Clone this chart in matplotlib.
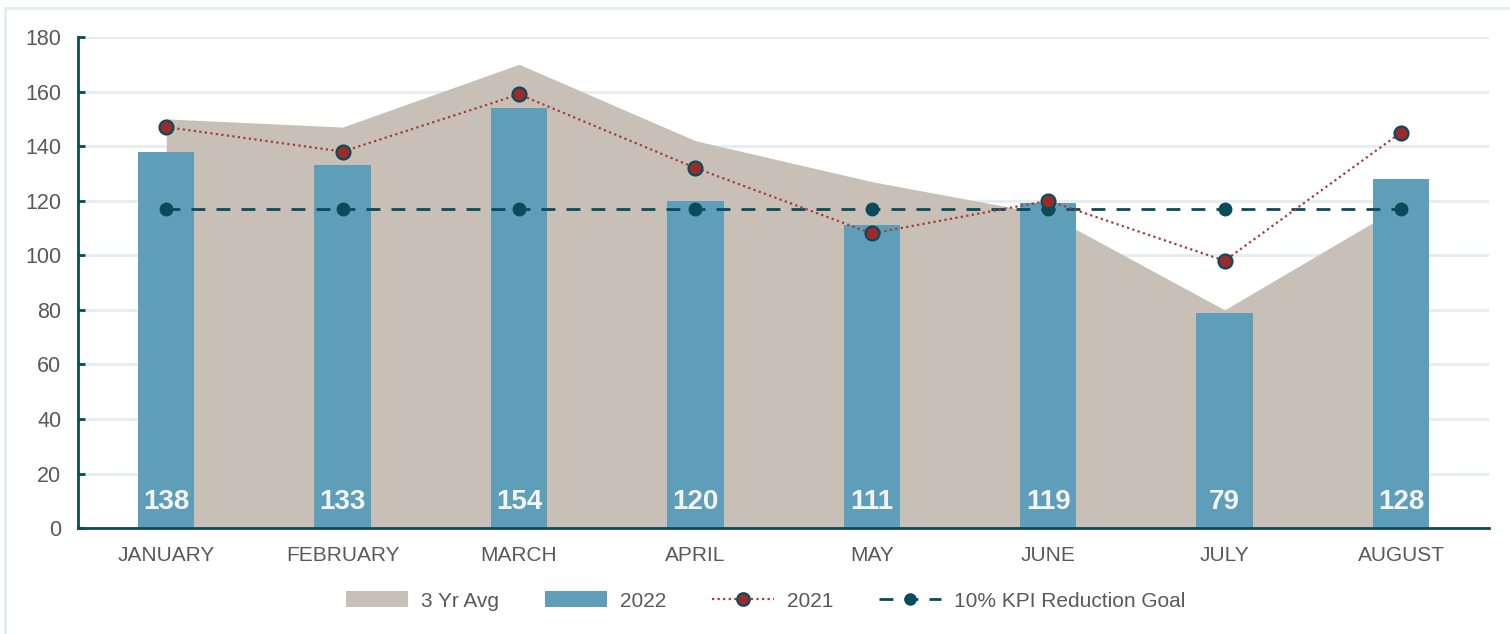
import matplotlib.pyplot as plt
import numpy as np
from matplotlib.patches import Patch
from matplotlib.lines import Line2D

plt.rcParams["font.family"] = ["Liberation Sans", "DejaVu Sans"]

months = ["JANUARY", "FEBRUARY", "MARCH", "APRIL", "MAY", "JUNE", "JULY", "AUGUST"]
avg_3yr = [150, 147, 170, 142, 127, 115, 80, 118]
vals_2022 = [138, 133, 154, 120, 111, 119, 79, 128]
vals_2021 = [147, 138, 159, 132, 108, 120, 98, 145]
kpi_goal = [117, 117, 117, 117, 117, 117, 117, 117]

DARK = "#0b4a5a"
AREA = "#c8c0b6"
BAR = "#5f9eb8"
RED = "#9b2b2b"
GRID = "#e3edf2"
TEXT = "#595959"

fig = plt.figure(figsize=(15.1, 6.34), dpi=100)
# faint outer frame (top and left edges only)
fig.add_artist(Line2D([0.0033, 1.0], [0.987, 0.987], transform=fig.transFigure,
                      color="#e1ecf1", linewidth=2))
fig.add_artist(Line2D([0.0033, 0.0033], [0.0, 0.987], transform=fig.transFigure,
                      color="#e1ecf1", linewidth=2))
ax = fig.add_axes([0.0517, 0.167, 0.9345, 0.7746])

x = np.arange(len(months))
ax.fill_between(x, avg_3yr, 0, color=AREA, linewidth=0, zorder=1)
ax.bar(x, vals_2022, width=0.32, color=BAR, zorder=2)
for xi, v in zip(x, vals_2022):
    ax.text(xi, 9.5, str(v), ha="center", va="center", color="#f4f4f4",
            fontsize=20, fontweight="bold", zorder=5)
ax.plot(x, vals_2021, linestyle=(0, (1, 1.5)), color="#a63a3a", linewidth=1.6,
        marker="o", markersize=10, markerfacecolor=RED, markeredgecolor=DARK,
        markeredgewidth=1.6, zorder=4)
ax.plot(x, kpi_goal, linestyle=(0, (5, 4)), color=DARK, linewidth=2,
        marker="o", markersize=9, markerfacecolor=DARK, markeredgecolor=DARK, zorder=3)

ax.set_xlim(-0.5, len(months) - 0.5)
ax.set_ylim(0, 180)
ax.set_yticks(range(0, 181, 20))
ax.grid(axis="y", color=GRID, linewidth=2, zorder=0)
ax.set_axisbelow(True)
ax.set_xticks(x)
ax.set_xticklabels(months)
for side in ["top", "right"]:
    ax.spines[side].set_visible(False)
for side in ["left", "bottom"]:
    ax.spines[side].set_color(DARK)
    ax.spines[side].set_linewidth(2)
ax.tick_params(axis="y", direction="in", length=5, width=2, color=DARK,
               labelsize=15.5, labelcolor=TEXT, pad=12)
ax.tick_params(axis="x", length=0, labelsize=15, labelcolor=TEXT, pad=13)

handles = [
    Patch(facecolor=AREA, edgecolor="none"),
    Patch(facecolor=BAR, edgecolor="none"),
    Line2D([], [], linestyle=(0, (1, 1.5)), color="#a63a3a", linewidth=1.6, marker="o",
           markersize=9, markerfacecolor=RED, markeredgecolor=DARK, markeredgewidth=1.6),
    Line2D([], [], linestyle=(0, (5, 4)), color=DARK, linewidth=2, marker="o",
           markersize=8, markerfacecolor=DARK, markeredgecolor=DARK),
]
fig.legend(handles, ["3 Yr Avg", "2022", "2021", "10% KPI Reduction Goal"],
           loc="center", bbox_to_anchor=(0.507, 0.052), ncol=4, frameon=False,
           fontsize=15, labelcolor=TEXT, handlelength=3.0, handleheight=0.8,
           columnspacing=2.2, handletextpad=0.6)

fig.savefig("out.png", dpi=100)
